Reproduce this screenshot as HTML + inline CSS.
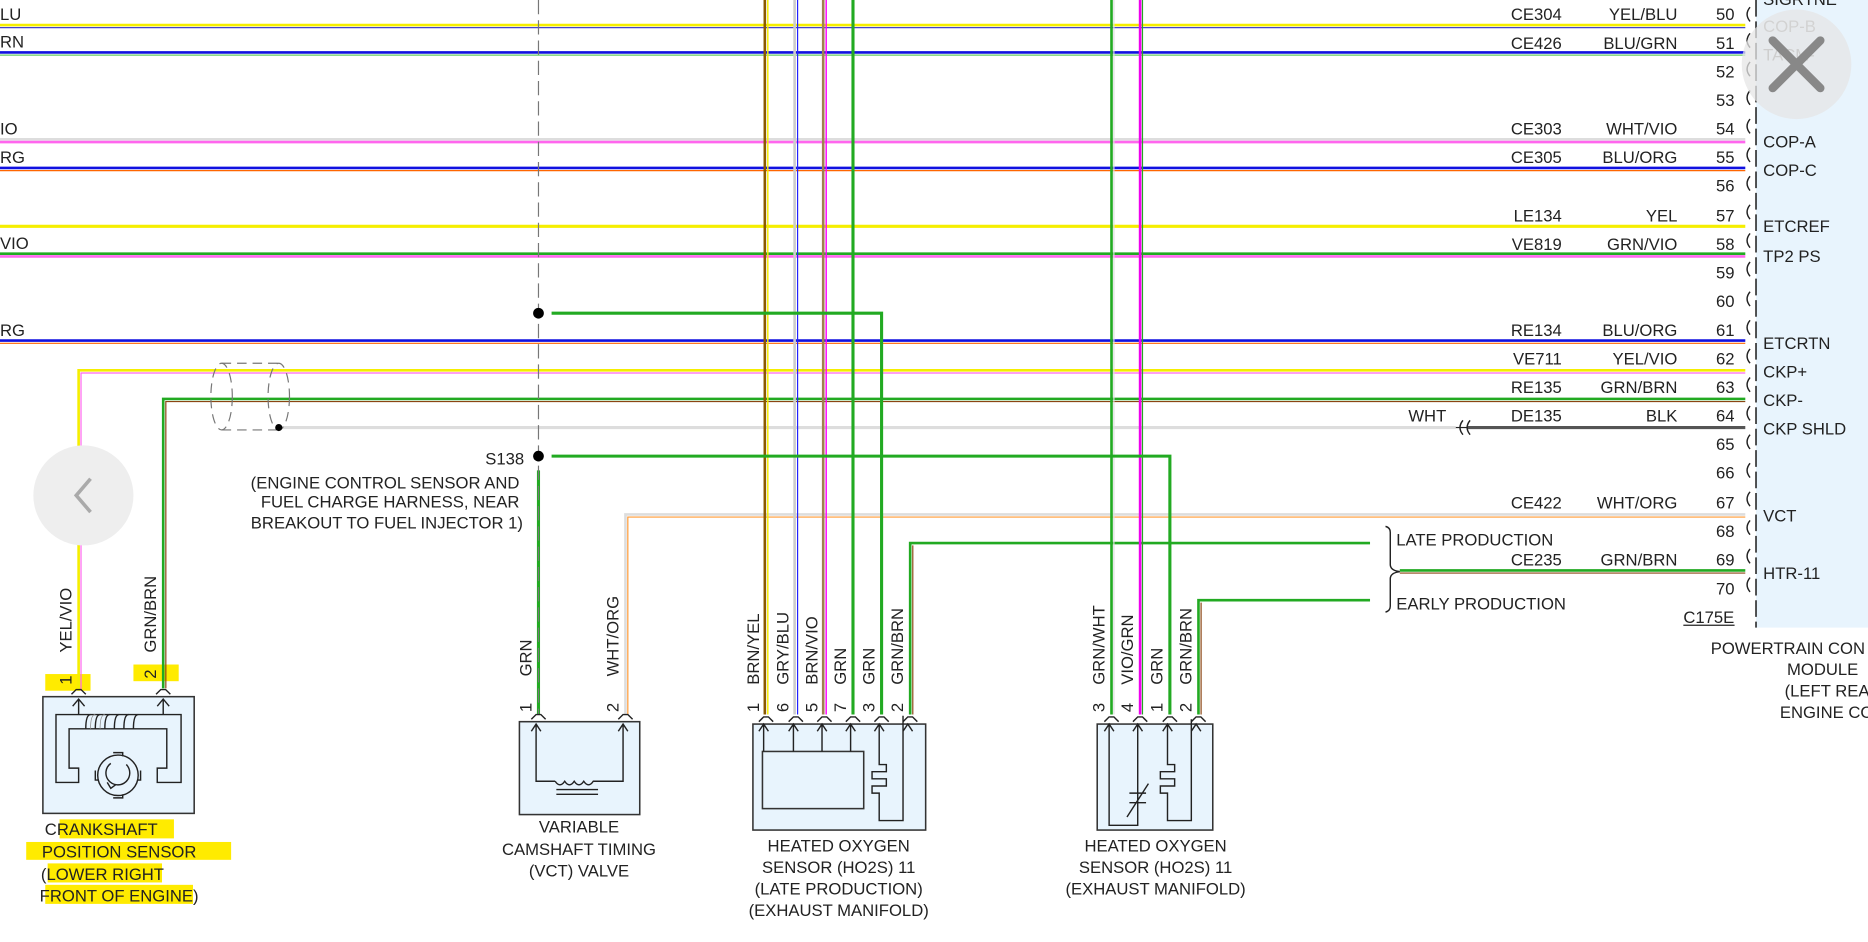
<!DOCTYPE html>
<html><head><meta charset="utf-8"><style>
html,body{margin:0;padding:0;background:#fff;width:1868px;height:942px;overflow:hidden}
svg{display:block}
text{font-family:"Liberation Sans",Arial,sans-serif;font-size:14px;fill:#222}
.r{text-anchor:end}.m{text-anchor:middle}
</style></head><body>
<svg width="1868" height="942" viewBox="0 0 1568 791" preserveAspectRatio="none" xmlns="http://www.w3.org/2000/svg">
<rect x="0" y="0" width="1568" height="791" fill="#fff"/>
<rect x="1474" y="0" width="100" height="527" fill="#e8f4fd"/>
<line x1="1474" y1="0" x2="1474" y2="527" stroke="#222" stroke-width="1.3" stroke-dasharray="14,4"/>
<g fill="#ffeb00">
<rect x="38" y="566" width="38" height="14"/><rect x="112" y="558" width="38" height="14"/>
<rect x="50" y="688" width="96" height="16"/><rect x="22" y="707" width="172" height="15"/>
<rect x="40" y="725" width="96" height="16"/><rect x="38" y="743" width="124" height="16"/>
</g>
<text x="0" y="17">LU</text><text x="0" y="40">RN</text><text x="0" y="113">IO</text><text x="0" y="137">RG</text><text x="0" y="209">VIO</text><text x="0" y="282">RG</text>
<g stroke-width="2.2" fill="none">
<line x1="0" y1="21" x2="1465" y2="21" stroke="#f5ee00"/><line x1="0" y1="23.2" x2="1465" y2="23.2" stroke="#4444cc" stroke-width="1"/>
<line x1="0" y1="44" x2="1465" y2="44" stroke="#1010e0"/><line x1="0" y1="46.3" x2="1465" y2="46.3" stroke="#6c6" stroke-width="1"/>
<line x1="0" y1="117" x2="1465" y2="117" stroke="#ddd"/><line x1="0" y1="119.3" x2="1465" y2="119.3" stroke="#f6e"/>
<line x1="0" y1="141" x2="1465" y2="141" stroke="#1010e0"/><line x1="0" y1="143.3" x2="1465" y2="143.3" stroke="#f60" stroke-width="1"/>
<line x1="0" y1="190" x2="1465" y2="190" stroke="#f5ee00" stroke-width="2.6"/>
<line x1="0" y1="213" x2="1465" y2="213" stroke="#2a2"/><line x1="0" y1="215.3" x2="1465" y2="215.3" stroke="#f6e"/>
<line x1="0" y1="286" x2="1465" y2="286" stroke="#1010e0"/><line x1="0" y1="288.3" x2="1465" y2="288.3" stroke="#f60" stroke-width="1"/>
<polyline points="66,580 66,311 1465,311" stroke="#f5ee00"/><polyline points="68,580 68,313.2 1465,313.2" stroke="#f6e" stroke-width="1"/>
<polyline points="137,578 137,335 1465,335" stroke="#2a2"/><polyline points="139.2,578 139.2,337.2 1465,337.2" stroke="#8b4513" stroke-width="1"/>
<line x1="233" y1="359" x2="1222" y2="359" stroke="#ddd" stroke-width="2.6"/>
<line x1="1232" y1="359" x2="1465" y2="359" stroke="#555" stroke-width="2.6"/>
<polyline points="525,600 525,432 1465,432" stroke="#ddd"/><polyline points="527,600 527,434.2 1465,434.2" stroke="#f93" stroke-width="1"/>
<line x1="1175" y1="479" x2="1465" y2="479" stroke="#2a2"/><line x1="1175" y1="481.2" x2="1465" y2="481.2" stroke="#8b4513" stroke-width="1"/>
<line x1="642" y1="0" x2="642" y2="600" stroke="#8b5a00"/><line x1="644.5" y1="0" x2="644.5" y2="600" stroke="#f5ee00" stroke-width="1.2"/>
<line x1="667" y1="0" x2="667" y2="600" stroke="#ccc"/><line x1="669.5" y1="0" x2="669.5" y2="600" stroke="#22f" stroke-width="1"/>
<line x1="691" y1="0" x2="691" y2="600" stroke="#a08050"/><line x1="693.5" y1="0" x2="693.5" y2="600" stroke="#f0f" stroke-width="1.2"/>
<line x1="716" y1="0" x2="716" y2="600" stroke="#2a2" stroke-width="2.6"/>
<polyline points="463,263 740,263 740,600" stroke="#2a2" stroke-width="2.6"/>
<polyline points="1150,456 764,456 764,600" stroke="#2a2"/><line x1="766.2" y1="458" x2="766.2" y2="600" stroke="#8b4513" stroke-width="1"/>
<line x1="933" y1="0" x2="933" y2="600" stroke="#2a2"/><line x1="935" y1="0" x2="935" y2="600" stroke="#ddd" stroke-width="1"/>
<line x1="957" y1="0" x2="957" y2="600" stroke="#e0e"/><line x1="959" y1="0" x2="959" y2="600" stroke="#2a2" stroke-width="1"/>
<polyline points="463,383 982,383 982,600" stroke="#2a2" stroke-width="2.6"/>
<polyline points="1150,504 1006,504 1006,600" stroke="#2a2"/><line x1="1008.2" y1="506" x2="1008.2" y2="600" stroke="#8b4513" stroke-width="1"/>
<line x1="452" y1="395" x2="452" y2="600" stroke="#2a2" stroke-width="2.6"/>
</g>
<line x1="452" y1="0" x2="452" y2="600" stroke="#777" stroke-width="1" stroke-dasharray="12,5"/>
<circle cx="452" cy="263" r="4.5" fill="#000"/><circle cx="452" cy="383" r="4.5" fill="#000"/>
<g fill="none" stroke="#777" stroke-width="1" stroke-dasharray="8,5">
<ellipse cx="186" cy="333" rx="9" ry="28"/><ellipse cx="234" cy="333" rx="9" ry="28"/>
<line x1="186" y1="305" x2="234" y2="305"/><line x1="186" y1="361" x2="234" y2="361"/>
</g>
<circle cx="234" cy="359" r="3" fill="#000"/>
<text x="440" y="390" class="r">S138</text>
<text x="436" y="410" class="r">(ENGINE CONTROL SENSOR AND</text>
<text x="436" y="426" class="r">FUEL CHARGE HARNESS, NEAR</text>
<text x="439" y="444" class="r">BREAKOUT TO FUEL INJECTOR 1)</text>
<g fill="none" stroke="#222" stroke-width="1.2">
<path d="M1469,6 q-5,6 0,12 M1469,28 q-5,6 0,12 M1469,52 q-5,6 0,12 M1469,76 q-5,6 0,12 M1469,100 q-5,6 0,12 M1469,124 q-5,6 0,12 M1469,148 q-5,6 0,12 M1469,172 q-5,6 0,12 M1469,196 q-5,6 0,12 M1469,220 q-5,6 0,12 M1469,245 q-5,6 0,12 M1469,269 q-5,6 0,12 M1469,293 q-5,6 0,12 M1469,317 q-5,6 0,12 M1469,341 q-5,6 0,12 M1469,365 q-5,6 0,12 M1469,389 q-5,6 0,12 M1469,413 q-5,6 0,12 M1469,437 q-5,6 0,12 M1469,461 q-5,6 0,12 M1469,485 q-5,6 0,12"/>
<path d="M1228,353 q-5,6 0,12 M1234,353 q-5,6 0,12"/>
<path d="M1163,442 q4,1 4,5 v27 q0,5 8,6 q-8,1 -8,6 v23 q0,4 -4,5"/>
</g>
<line x1="1222" y1="359" x2="1232" y2="359" stroke="#222" stroke-width="1"/>
<text x="1456" y="17" class="r">50</text><text x="1456" y="41" class="r">51</text><text x="1456" y="65" class="r">52</text><text x="1456" y="89" class="r">53</text><text x="1456" y="113" class="r">54</text><text x="1456" y="137" class="r">55</text><text x="1456" y="161" class="r">56</text><text x="1456" y="186" class="r">57</text><text x="1456" y="210" class="r">58</text><text x="1456" y="234" class="r">59</text><text x="1456" y="258" class="r">60</text><text x="1456" y="282" class="r">61</text><text x="1456" y="306" class="r">62</text><text x="1456" y="330" class="r">63</text><text x="1456" y="354" class="r">64</text><text x="1456" y="378" class="r">65</text><text x="1456" y="402" class="r">66</text><text x="1456" y="427" class="r">67</text><text x="1456" y="451" class="r">68</text><text x="1456" y="475" class="r">69</text><text x="1456" y="499" class="r">70</text>
<text x="1311" y="17" class="r">CE304</text><text x="1408" y="17" class="r">YEL/BLU</text>
<text x="1311" y="41" class="r">CE426</text><text x="1408" y="41" class="r">BLU/GRN</text>
<text x="1311" y="113" class="r">CE303</text><text x="1408" y="113" class="r">WHT/VIO</text>
<text x="1311" y="137" class="r">CE305</text><text x="1408" y="137" class="r">BLU/ORG</text>
<text x="1311" y="186" class="r">LE134</text><text x="1408" y="186" class="r">YEL</text>
<text x="1311" y="210" class="r">VE819</text><text x="1408" y="210" class="r">GRN/VIO</text>
<text x="1311" y="282" class="r">RE134</text><text x="1408" y="282" class="r">BLU/ORG</text>
<text x="1311" y="306" class="r">VE711</text><text x="1408" y="306" class="r">YEL/VIO</text>
<text x="1311" y="330" class="r">RE135</text><text x="1408" y="330" class="r">GRN/BRN</text>
<text x="1214" y="354" class="r">WHT</text><text x="1311" y="354" class="r">DE135</text><text x="1408" y="354" class="r">BLK</text>
<text x="1311" y="427" class="r">CE422</text><text x="1408" y="427" class="r">WHT/ORG</text>
<text x="1311" y="475" class="r">CE235</text><text x="1408" y="475" class="r">GRN/BRN</text>
<text x="1172" y="458">LATE PRODUCTION</text><text x="1172" y="512">EARLY PRODUCTION</text>
<text x="1480" y="4">SIGRTNE</text>
<text x="1480" y="27" style="fill:#999">COP-B</text><text x="1480" y="51" style="fill:#888">TACM-</text>
<text x="1480" y="124">COP-A</text><text x="1480" y="148">COP-C</text><text x="1480" y="195">ETCREF</text><text x="1480" y="220">TP2 PS</text>
<text x="1480" y="293">ETCRTN</text><text x="1480" y="317">CKP+</text><text x="1480" y="341">CKP-</text><text x="1480" y="365">CKP SHLD</text>
<text x="1480" y="438">VCT</text><text x="1480" y="486">HTR-11</text>
<text x="1413" y="523">C175E</text><line x1="1413" y1="525" x2="1456" y2="525" stroke="#222" stroke-width="1"/>
<text x="1436" y="549">POWERTRAIN CON</text><text x="1500" y="567">MODULE</text><text x="1498" y="585">(LEFT REA</text><text x="1494" y="603">ENGINE CO</text>
<circle cx="1508" cy="54" r="46" fill="#e6e6e6" opacity="0.75"/>
<path d="M1488,34 L1528,74 M1528,34 L1488,74" stroke="#888" stroke-width="7" stroke-linecap="round"/>
<circle cx="70" cy="416" r="42" fill="#eee"/>
<path d="M76,402 L64,416 L76,430" stroke="#aaa" stroke-width="3" fill="none"/>
<text transform="translate(60,548) rotate(-90)">YEL/VIO</text><text transform="translate(60,575) rotate(-90)">1</text>
<text transform="translate(131,548) rotate(-90)">GRN/BRN</text><text transform="translate(131,570) rotate(-90)">2</text>
<text transform="translate(446,568) rotate(-90)">GRN</text><text transform="translate(446,598) rotate(-90)">1</text>
<text transform="translate(519,568) rotate(-90)">WHT/ORG</text><text transform="translate(519,598) rotate(-90)">2</text>
<text transform="translate(637,575) rotate(-90)">BRN/YEL</text><text transform="translate(637,598) rotate(-90)">1</text>
<text transform="translate(662,575) rotate(-90)">GRY/BLU</text><text transform="translate(662,598) rotate(-90)">6</text>
<text transform="translate(686,575) rotate(-90)">BRN/VIO</text><text transform="translate(686,598) rotate(-90)">5</text>
<text transform="translate(710,575) rotate(-90)">GRN</text><text transform="translate(710,598) rotate(-90)">7</text>
<text transform="translate(734,575) rotate(-90)">GRN</text><text transform="translate(734,598) rotate(-90)">3</text>
<text transform="translate(758,575) rotate(-90)">GRN/BRN</text><text transform="translate(758,598) rotate(-90)">2</text>
<text transform="translate(927,575) rotate(-90)">GRN/WHT</text><text transform="translate(927,598) rotate(-90)">3</text>
<text transform="translate(951,575) rotate(-90)">VIO/GRN</text><text transform="translate(951,598) rotate(-90)">4</text>
<text transform="translate(976,575) rotate(-90)">GRN</text><text transform="translate(976,598) rotate(-90)">1</text>
<text transform="translate(1000,575) rotate(-90)">GRN/BRN</text><text transform="translate(1000,598) rotate(-90)">2</text>
<g fill="#e8f4fd" stroke="#333" stroke-width="1.3">
<rect x="36" y="585" width="127" height="98"/>
<rect x="436" y="606" width="101" height="78"/>
<rect x="632" y="608" width="145" height="89"/>
<rect x="921" y="608" width="97" height="89"/>
<rect x="640" y="631" width="85" height="48"/>
</g>
<g fill="none" stroke="#222" stroke-width="1.2">
<path d="M60,583 l4,-4 h4 l4,4 M131,583 l4,-4 h4 l4,4 M446,604 l4,-4 h4 l4,4 M519,604 l4,-4 h4 l4,4"/>
<path d="M637,606 l4,-4 h4 l4,4 M662,606 l4,-4 h4 l4,4 M686,606 l4,-4 h4 l4,4 M710,606 l4,-4 h4 l4,4 M734,606 l4,-4 h4 l4,4 M758,606 l4,-4 h4 l4,4"/>
<path d="M927,606 l4,-4 h4 l4,4 M951,606 l4,-4 h4 l4,4 M976,606 l4,-4 h4 l4,4 M1000,606 l4,-4 h4 l4,4"/>
<!-- crank internals -->
<path d="M61,593 l5,-6 l5,6 M66,587 v13 M132,593 l5,-6 l5,6 M137,587 v13"/>
<path d="M66,645 h-8 v-33 h82 v33 h-8 v12 h20 v-57 h-105 v57 h19 z"/>
<path d="M72,612 q0,-12 4,-12 M80,612 q0,-12 4,-12 M88,612 q0,-12 4,-12 M96,612 q0,-12 4,-12 M104,612 q0,-12 4,-12 M112,612 q0,-12 4,-12"/>
<path d="M76,612 q0,-12 4,-12 M84,612 q0,-12 4,-12" stroke="#888" stroke-width="0.6"/>
<circle cx="99" cy="651" r="17"/>
<path d="M95,632 h8 v3 M95,670 h8 v-3 M80,647 v8 h3 M118,647 v8 h-3"/>
<path d="M106,642 a10,10 0 1 1 -13,-1 M90,657 l3,5 l4,-3"/>
<!-- vct -->
<path d="M446,614 l4,-6 l4,6 M450,608 v48 h16 M519,614 l4,-6 l4,6 M523,608 v48 h-16"/>
<path d="M466,656 q4,6 8,0 q4,6 8,0 q4,6 8,0 q4,6 8,0 h9 M467,663 h35 M467,667 h35"/>
<!-- ho2s late -->
<path d="M637,614 l4,-6 l4,6 M641,608 v23 M662,614 l4,-6 l4,6 M666,608 v23 M686,614 l4,-6 l4,6 M690,608 v23 M710,614 l4,-6 l4,6 M714,608 v23"/>
<path d="M734,614 l4,-6 l4,6 M738,608 v34 h6 v6 h-12 v6 h12 v6 h-12 v6 h6 v23 h20 v-88 M758,614 l4,-6 l4,6"/>
<!-- ho2s -->
<path d="M927,614 l4,-6 l4,6 M931,608 v85 h24 v-85 M951,614 l4,-6 l4,6 M948,666 h14 M948,674 h14 M946,686 l18,-28"/>
<path d="M976,614 l4,-6 l4,6 M980,608 v34 h6 v6 h-12 v6 h12 v6 h-12 v6 h6 v23 h20 v-85 M1000,614 l4,-6 l4,6"/>
</g>
<text x="85" y="701" class="m">CRANKSHAFT</text><text x="100" y="720" class="m">POSITION SENSOR</text><text x="86" y="739" class="m">(LOWER RIGHT</text><text x="100" y="757" class="m">FRONT OF ENGINE)</text>
<text x="486" y="699" class="m">VARIABLE</text><text x="486" y="718" class="m">CAMSHAFT TIMING</text><text x="486" y="736" class="m">(VCT) VALVE</text>
<text x="704" y="715" class="m">HEATED OXYGEN</text><text x="704" y="733" class="m">SENSOR (HO2S) 11</text><text x="704" y="751" class="m">(LATE PRODUCTION)</text><text x="704" y="769" class="m">(EXHAUST MANIFOLD)</text>
<text x="970" y="715" class="m">HEATED OXYGEN</text><text x="970" y="733" class="m">SENSOR (HO2S) 11</text><text x="970" y="751" class="m">(EXHAUST MANIFOLD)</text>
</svg>
</body></html>
